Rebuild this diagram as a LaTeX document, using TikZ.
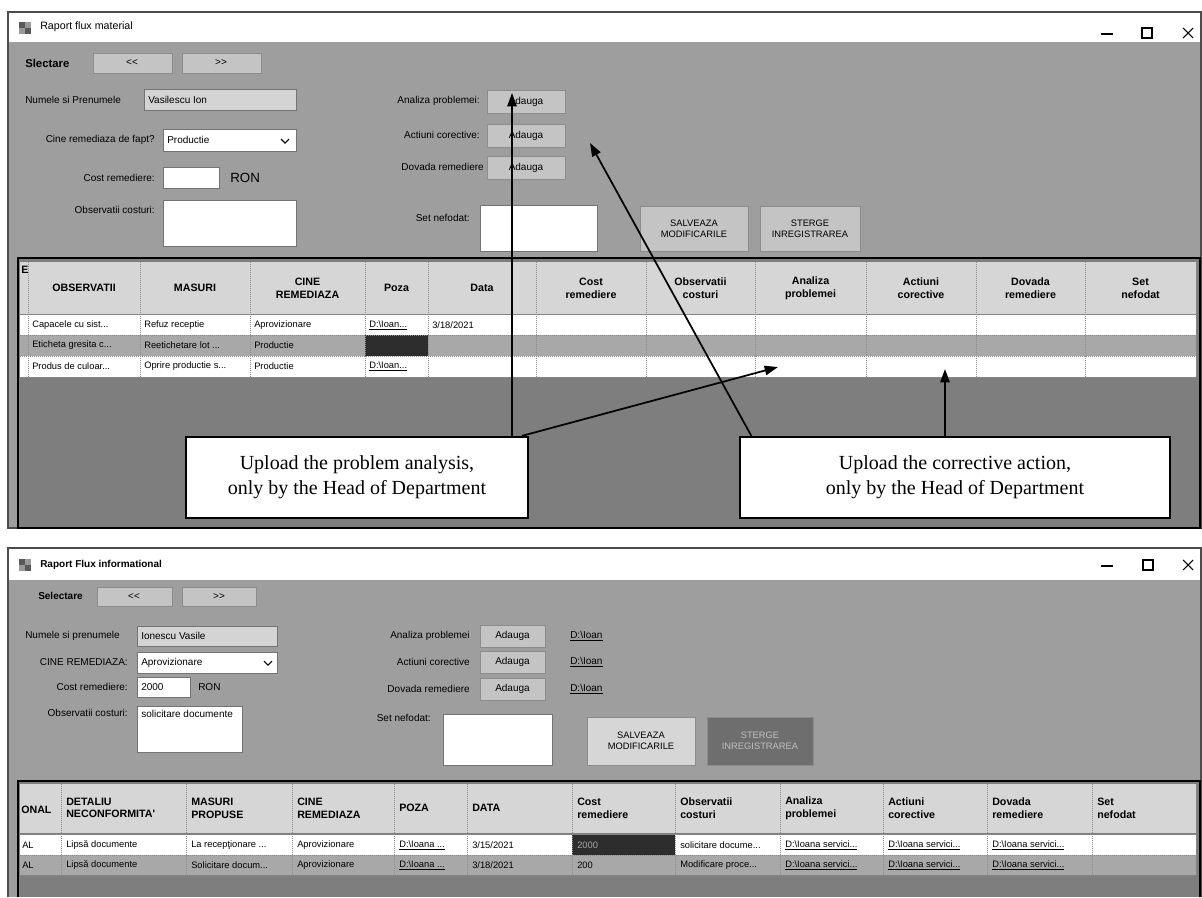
\documentclass[tikz,border=0pt]{standalone}
\usepackage{fontspec}
\setmainfont{Liberation Serif}
\newfontfamily\uifont{Liberation Sans}
\usetikzlibrary{arrows.meta}
\definecolor{formgray}{RGB}{158,158,158}
\definecolor{darkarea}{RGB}{126,126,126}
\definecolor{hdrgray}{RGB}{214,214,214}
\definecolor{rowgray}{RGB}{168,168,168}
\definecolor{btngray}{RGB}{196,196,196}
\definecolor{boxlight}{RGB}{212,212,212}
\definecolor{darkcell}{RGB}{45,45,45}
\definecolor{darkbtn}{RGB}{110,110,110}
\newcommand\lnk[1]{\underline{#1}}
\newcommand\bksl{\textbackslash}
\begin{document}
\begin{tikzpicture}[x=0.75pt,y=-0.75pt,
  ui/.style={font=\uifont\fontsize{7.5}{8.5}\selectfont, inner sep=0pt},
  lblw/.style={ui, anchor=west},
  lble/.style={ui, anchor=east},
  ttl/.style={font=\uifont\fontsize{8}{9}\selectfont, inner sep=0pt, anchor=west},
  cell/.style={font=\uifont\fontsize{7}{8}\selectfont, inner sep=0pt, anchor=west},
  hdr/.style={font=\uifont\bfseries\fontsize{8}{9.5}\selectfont, inner sep=0pt, align=center},
  hdrl/.style={font=\uifont\bfseries\fontsize{8}{9.5}\selectfont, inner sep=0pt, align=left, anchor=west},
  btntext/.style={font=\uifont\fontsize{7}{8.5}\selectfont, inner sep=0pt, align=center},
  btn/.style={fill=btngray, draw=black!45, line width=0.6pt},
  field/.style={fill=white, draw=black!55, line width=0.6pt},
  lfield/.style={fill=boxlight, draw=black!55, line width=0.6pt},
  sep/.style={draw=black!45, line width=0.5pt, densely dotted},
  callout/.style={draw=black, line width=1.5pt, fill=white, font=\fontsize{15}{19}\selectfont, align=center, inner sep=0pt},
  arr/.style={draw=black, line width=1.3pt, -{Triangle[length=10pt,width=7pt]}},
  winframe/.style={draw=black!70, line width=0.8pt},
  ctrl/.style={draw=black, line width=0.8pt},
]
\useasboundingbox (0,0) rectangle (1202,897);
\fill[white] (0,0) rectangle (1202,897);

% ================= TOP WINDOW =================
\fill[formgray] (8,42) rectangle (1201,528);
\fill[white] (8,12) rectangle (1201,42);
\draw[winframe] (8,12) rectangle (1201,528);
% icon
\fill[black!65] (19,22) rectangle (25,28);
\fill[black!40] (25,22) rectangle (31,28);
\fill[black!40] (19,28) rectangle (25,34);
\fill[black!65] (25,28) rectangle (31,34);
\node[ttl] (title1) at (40,27) {Raport flux material};
\draw[ctrl] (1101,34) -- (1113,34);
\draw[ctrl] (1142,28) rectangle (1152,38);
\draw[ctrl] (1183,28) -- (1193,38) (1183,38) -- (1193,28);

% left form
\node[ui, anchor=west, font=\uifont\bfseries\fontsize{8.5}{9}\selectfont] (sel1) at (25,63) {Slectare};
\path[btn] (93,53) rectangle (172,73);
\node[ui] (prev1) at (132,63) {<<};
\path[btn] (182,53) rectangle (261,73);
\node[ui] (next1) at (221,63) {>>};
\node[lblw] (nume1) at (25,100) {Numele si Prenumele};
\path[lfield] (144,89) rectangle (296,110);
\node[lblw] (numev1) at (148,100) {Vasilescu Ion};
\node[lble] (cine1) at (155,140) {Cine remediaza de fapt?};
\path[field] (163,129) rectangle (296,151);
\node[lblw] (cinev1) at (167,140) {Productie};
\draw[line width=0.8pt] (281,139) -- (285,143) -- (289,139);
\node[lble] (cost1) at (155,178) {Cost remediere:};
\path[field] (163,167) rectangle (219,188);
\node[ui, anchor=west, font=\uifont\fontsize{10}{11}\selectfont] (ron1) at (230,178) {RON};
\node[lble] (obs1) at (155,210) {Observatii costuri:};
\path[field] (163,200) rectangle (296,246);

% middle form
\node[lble] (an1) at (480,101) {Analiza problemei:};
\path[btn] (487,90) rectangle (565,113);
\node[ui] (anb1) at (526,101.5) {Adauga};
\node[lble] (ac1) at (480,135) {Actiuni corective:};
\path[btn] (487,124) rectangle (565,147);
\node[ui] (acb1) at (526,135.5) {Adauga};
\node[lble] (dv1) at (484,167) {Dovada remediere};
\path[btn] (487,156) rectangle (565,179);
\node[ui] (dvb1) at (526,167.5) {Adauga};
\node[lble] (set1) at (470,218) {Set nefodat:};
\path[field] (480,205) rectangle (597,251);
\path[btn] (640,206) rectangle (748,251);
\node[btntext] (salv1) at (694,228.5) {SALVEAZA\\MODIFICARILE};
\path[btn] (760,206) rectangle (860,251);
\node[btntext] (sterg1) at (810,228.5) {STERGE\\INREGISTRAREA};

% top table
\fill[darkarea] (18,258) rectangle (1200,528);
\fill[hdrgray] (20,262) rectangle (1196,314);
\fill[white] (20,315) rectangle (1196,335);
\fill[rowgray] (20,335) rectangle (1196,356);
\fill[white] (20,356) rectangle (1196,377);
\fill[darkcell] (365,335) rectangle (428,356);
\foreach \x in {28,140,250,365,428,536,646,755,866,976,1085,1196}
  \draw[sep] (\x,262) -- (\x,377);
\foreach \y in {314,335,356,377}
  \draw[sep] (20,\y) -- (1196,\y);
\draw[line width=1.4pt] (18,258) rectangle (1200,528);
\node[hdr, anchor=west] (hE) at (21,270) {E};
\foreach \x/\t [count=\i] in {84/{OBSERVATII},195/{MASURI},307.5/{CINE\\REMEDIAZA},396.5/{Poza},482/{Data},591/{Cost\\remediere},700.5/{Observatii\\costuri},810.5/{Analiza\\problemei},921/{Actiuni\\corective},1030.5/{Dovada\\remediere},1140.5/{Set\\nefodat}}
  \node[hdr] (th\i) at (\x,288) {\t};
\foreach \x/\t [count=\i] in {32/{Capacele cu sist...},144/{Refuz receptie},254/{Aprovizionare},369/{\lnk{D:\bksl Ioan...}},432/{3/18/2021}}
  \node[cell] (ra\i) at (\x,325) {\t};
\foreach \x/\t [count=\i] in {32/{Eticheta gresita c...},144/{Reetichetare lot ...},254/{Productie}}
  \node[cell] (rb\i) at (\x,345.5) {\t};
\foreach \x/\t [count=\i] in {32/{Produs de culoar...},144/{Oprire productie s...},254/{Productie},369/{\lnk{D:\bksl Ioan...}}}
  \node[cell] (rc\i) at (\x,366.5) {\t};

% callouts
\node[callout, minimum width=256pt, minimum height=61pt] (c1) at (357,477.5)
  {Upload the problem analysis,\\only by the Head of Department};
\node[callout, minimum width=322pt, minimum height=61pt] (c2) at (955,477.5)
  {Upload the corrective action,\\only by the Head of Department};

\coordinate (t1) at (512,93);
\coordinate (t2) at (778,367);
\coordinate (t3) at (590,143);
\coordinate (t4) at (945,369);
\draw[arr] (c1.north -| t1) -- (t1);
\draw[arr] ([xshift=-5pt]c1.north east) -- (t2);
\draw[arr] ([xshift=9pt]c2.north west) -- (t3);
\draw[arr] (c2.north -| t4) -- (t4);

% ================= BOTTOM WINDOW =================
\fill[formgray] (8,580) rectangle (1201,897);
\fill[white] (8,548) rectangle (1201,580);
\draw[winframe] (8,897) -- (8,548) -- (1201,548) -- (1201,897);
\fill[black!65] (19,559) rectangle (25,565);
\fill[black!40] (25,559) rectangle (31,565);
\fill[black!40] (19,565) rectangle (25,571);
\fill[black!65] (25,565) rectangle (31,571);
\node[ttl, font=\uifont\bfseries\fontsize{7.5}{9}\selectfont] (title2) at (40,565) {Raport Flux informational};
\draw[ctrl] (1101,566) -- (1113,566);
\draw[ctrl] (1143,560) rectangle (1153,570);
\draw[ctrl] (1183,560) -- (1193,570) (1183,570) -- (1193,560);

\node[lblw, font=\uifont\bfseries\fontsize{7.5}{8.5}\selectfont] (sel2) at (38,596) {Selectare};
\path[btn] (97,587) rectangle (172,606);
\node[ui] (prev2) at (134,596.5) {<<};
\path[btn] (182,587) rectangle (256,606);
\node[ui] (next2) at (219,596.5) {>>};
\node[lblw] (nume2) at (25,636) {Numele si prenumele};
\path[lfield] (137,626) rectangle (277,646);
\node[lblw] (numev2) at (141,636) {Ionescu Vasile};
\node[lble] (cine2) at (128,662) {CINE REMEDIAZA:};
\path[field] (137,652) rectangle (277,673);
\node[lblw] (cinev2) at (141,662.5) {Aprovizionare};
\draw[line width=0.8pt] (264,661) -- (268,665) -- (272,661);
\node[lble] (cost2) at (128,687) {Cost remediere:};
\path[field] (137,677) rectangle (190,697);
\node[lblw] (costv2) at (141,687) {2000};
\node[lblw] (ron2) at (198,687) {RON};
\node[lble] (obs2) at (128,713) {Observatii costuri:};
\path[field] (137,706) rectangle (242,752);
\node[lblw] (obsv2) at (141,714) {solicitare documente};

\node[lble] (an2) at (470,636) {Analiza problemei};
\path[btn] (480,625) rectangle (545,647);
\node[ui] (anb2) at (512.5,636) {Adauga};
\node[lblw] (anl2) at (570,636) {\lnk{D:\bksl Ioan}};
\node[lble] (ac2) at (470,662) {Actiuni corective};
\path[btn] (480,651) rectangle (545,673);
\node[ui] (acb2) at (512.5,662) {Adauga};
\node[lblw] (acl2) at (570,662) {\lnk{D:\bksl Ioan}};
\node[lble] (dv2) at (470,689) {Dovada remediere};
\path[btn] (480,678) rectangle (545,700);
\node[ui] (dvb2) at (512.5,689) {Adauga};
\node[lblw] (dvl2) at (570,689) {\lnk{D:\bksl Ioan}};
\node[lble] (set2) at (431,718) {Set nefodat:};
\path[field] (443,714) rectangle (552,765);
\path[btn, fill=btngray!70!white] (587,717) rectangle (695,765);
\node[btntext] (salv2) at (641,741) {SALVEAZA\\MODIFICARILE};
\path[btn, fill=darkbtn] (707,717) rectangle (813,765);
\node[btntext, text=black!25] (sterg2) at (760,741) {STERGE\\INREGISTRAREA};

% bottom table
\fill[darkarea] (18,781) rectangle (1200,897);
\fill[hdrgray] (20,784) rectangle (1196,833);
\fill[white] (20,835) rectangle (1196,855);
\fill[rowgray] (20,855) rectangle (1196,875);
\fill[darkcell] (572,835) rectangle (675,855);
\foreach \x in {61,186,292,394,467,572,675,780,883,987,1092,1196}
  \draw[sep] (\x,784) -- (\x,875);
\foreach \y in {834,855,875}
  \draw[sep] (20,\y) -- (1196,\y);
\draw[line width=1.4pt] (18,897) -- (18,781) -- (1200,781) -- (1200,897);
\node[hdrl] (bh0) at (21,810) {ONAL};
\foreach \x/\t [count=\i] in {66/{DETALIU\\NECONFORMITA'},191/{MASURI\\PROPUSE},297/{CINE\\REMEDIAZA},399/{POZA},472/{DATA},577/{Cost\\remediere},680/{Observatii\\costuri},785/{Analiza\\problemei},888/{Actiuni\\corective},992/{Dovada\\remediere},1097/{Set\\nefodat}}
  \node[hdrl] (bh\i) at (\x,808) {\t};
\foreach \x/\t [count=\i] in {22/{AL},66/{Lipsă documente},191/{La recepţionare ...},297/{Aprovizionare},399/{\lnk{D:\bksl Ioana ...}},472/{3/15/2021},680/{solicitare docume...},785/{\lnk{D:\bksl Ioana servici...}},888/{\lnk{D:\bksl Ioana servici...}},992/{\lnk{D:\bksl Ioana servici...}}}
  \node[cell] (ba\i) at (\x,845) {\t};
\node[cell, text=black!35] (bacost) at (577,845) {2000};
\foreach \x/\t [count=\i] in {22/{AL},66/{Lipsă documente},191/{Solicitare docum...},297/{Aprovizionare},399/{\lnk{D:\bksl Ioana ...}},472/{3/18/2021},577/{200},680/{Modificare proce...},785/{\lnk{D:\bksl Ioana servici...}},888/{\lnk{D:\bksl Ioana servici...}},992/{\lnk{D:\bksl Ioana servici...}}}
  \node[cell] (bb\i) at (\x,865) {\t};
\end{tikzpicture}
\end{document}
